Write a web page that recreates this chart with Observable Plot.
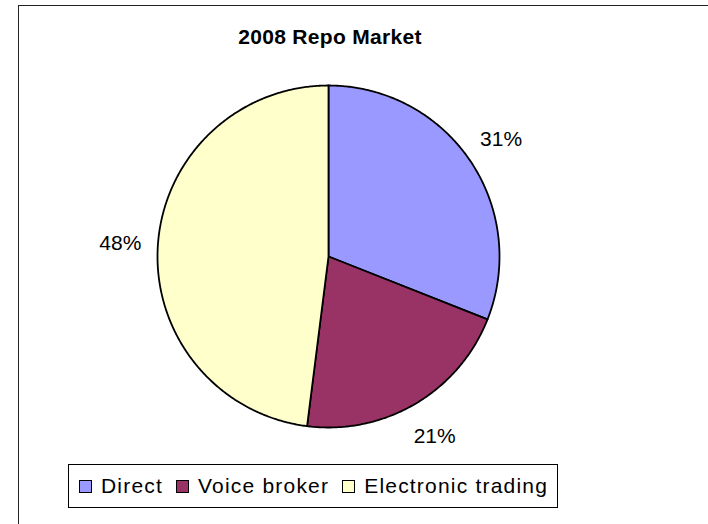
<!DOCTYPE html>
<html>
<head>
<meta charset="utf-8">
<script src="https://cdn.jsdelivr.net/npm/d3@7"></script>
<script src="https://cdn.jsdelivr.net/npm/@observablehq/plot@0.6"></script>
<style>
  html, body { margin: 0; padding: 0; background: #fff; overflow: hidden; }
  #wrap { position: relative; width: 708px; height: 524px; overflow: hidden; font-family: "Liberation Sans", Arial, sans-serif; }
  #frame { position: absolute; left: 18px; top: 5px; width: 800px; height: 700px; border: 1.5px solid #222; box-sizing: border-box; }
  #title { position: absolute; left: 0; width: 660px; top: 25px; text-align: center; font-weight: bold; font-size: 21px; letter-spacing: 0.3px; color: #000; }
  #chart { position: absolute; left: 0; top: 0; }
  #legend { position: absolute; left: 68px; top: 464px; height: 44px; box-sizing: border-box; border: 1px solid #000; background: #fff; display: flex; align-items: center; padding: 0 9px 0 10px; font-size: 21px; letter-spacing: 1.2px; color: #000; white-space: nowrap; }
  .item { display: flex; align-items: center; margin-right: 13px; }
  .item:last-child { margin-right: 0; }
  .sw { width: 13px; height: 13px; border: 1px solid #000; margin-right: 9px; box-sizing: border-box; }
</style>
</head>
<body>
<div id="wrap">
  <div id="frame"></div>
  <div id="chart"></div>
  <div id="title">2008 Repo Market</div>
  <div id="legend"></div>
</div>
<script>
const categories = ["Direct", "Voice broker", "Electronic trading"];
const shares = [31, 21, 48];
const labels = ["31%", "21%", "48%"];
const colors = ["#9999FF", "#993366", "#FFFFCC"];

const total = d3.sum(shares);
const slices = [];
const labelPts = [];
let acc = 0;
categories.forEach((c, i) => {
  const a0 = acc / total * 2 * Math.PI;
  acc += shares[i];
  const a1 = acc / total * 2 * Math.PI;
  const n = Math.max(2, Math.ceil((a1 - a0) / (Math.PI / 360)));
  slices.push({cat: c, x: 0, y: 0});
  for (let k = 0; k <= n; k++) {
    const a = a0 + (a1 - a0) * k / n;
    slices.push({cat: c, x: Math.sin(a), y: Math.cos(a)});
  }
  slices.push({cat: c, x: 0, y: 0});
  const am = (a0 + a1) / 2;
  labelPts.push({cat: c, label: labels[i], x: 1.22 * Math.sin(am), y: 1.22 * Math.cos(am)});
});

const W = 708, H = 524;
const cx = 328, cy = 256, R = 171;
const chart = Plot.plot({
  width: W,
  height: H,
  marginLeft: cx - R,
  marginRight: W - (cx + R),
  marginTop: cy - R,
  marginBottom: H - (cy + R),
  x: {domain: [-1, 1], axis: null},
  y: {domain: [-1, 1], axis: null},
  color: {domain: categories, range: colors},
  style: {background: "transparent", fontFamily: "Liberation Sans, Arial, sans-serif"},
  marks: [
    Plot.line(slices, {x: "x", y: "y", z: "cat", fill: "cat", stroke: "#000", strokeWidth: 1.8, strokeLinejoin: "round", curve: "linear"}),
    Plot.text(labelPts, {x: "x", y: "y", text: "label", fontSize: 21, fill: "#000", textAnchor: "middle", lineAnchor: "middle", letterSpacing: "0.6px"})
  ]
});
document.getElementById("chart").appendChild(chart);

const legend = document.getElementById("legend");
categories.forEach((c, i) => {
  const it = document.createElement("div");
  it.className = "item";
  const sw = document.createElement("div");
  sw.className = "sw";
  sw.style.background = colors[i];
  const t = document.createElement("span");
  t.textContent = c;
  it.appendChild(sw);
  it.appendChild(t);
  legend.appendChild(it);
});
</script>
</body>
</html>
